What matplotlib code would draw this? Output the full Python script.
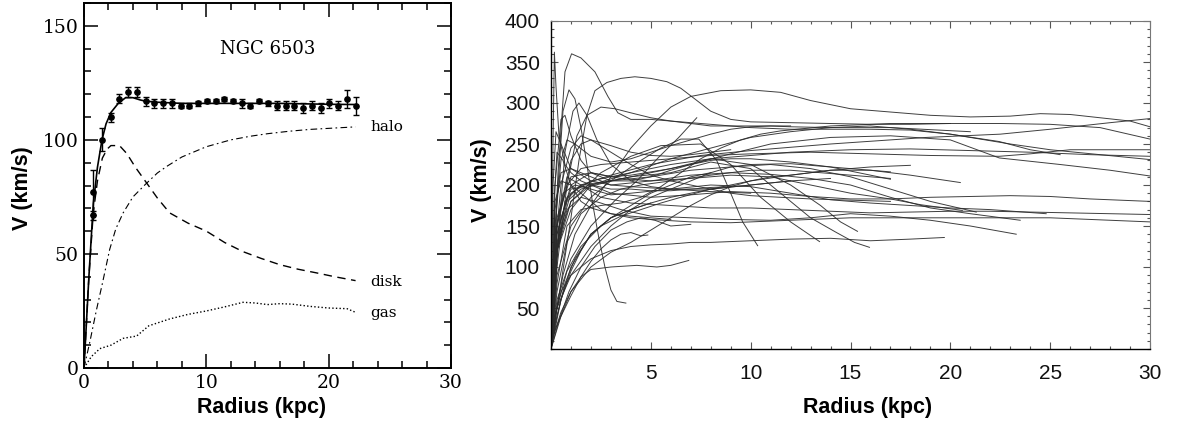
import matplotlib
matplotlib.use("Agg")
import matplotlib.pyplot as plt
from matplotlib.ticker import MultipleLocator

# ---------------- Left panel data: NGC 6503 ----------------
obs_r = [0.70, 0.76, 1.47, 2.18, 2.86, 3.60, 4.30, 5.04, 5.75, 6.49, 7.19, 7.90, 8.60,
         9.35, 10.05, 10.76, 11.47, 12.20, 12.90, 13.60, 14.30, 15.00, 15.75, 16.50,
         17.20, 17.90, 18.60, 19.35, 20.05, 20.80, 21.50, 22.20]
obs_v = [67, 77, 100, 110, 118, 121, 121, 117, 116, 116, 116, 115, 115,
         116, 117, 117, 118, 117, 116, 115, 117, 116, 115, 115,
         115, 114, 115, 114, 116, 115, 118, 115]
obs_err = [2, 10, 5, 2, 2, 2, 2, 2, 2, 2, 2, 1, 1,
           1, 1, 1, 1, 1, 2, 1, 1, 1, 2, 2,
           2, 2, 2, 2, 2, 2, 4, 4]

fit_r = [0, 0.4, 0.76, 1.1, 1.47, 1.8, 2.2, 2.8, 3.4, 4.0, 4.6, 5.0, 6, 8, 10, 12, 14, 16, 18, 20, 22.2]
fit_v = [0, 40, 72, 88, 100, 107, 112, 116, 118.5, 118.5, 117.5, 117, 116.5, 116, 116, 116, 116, 116, 115.8, 115.6, 115.5]

disk_r = [0, 0.4, 0.76, 1.1, 1.5, 1.9, 2.2, 2.9, 3.5, 4.2, 5.0, 6.0, 7.0, 8.5, 10, 11.5, 13, 14.5, 16, 17.5, 19, 20.5, 22.2]
disk_v = [0, 40, 68, 82, 92, 96, 97.5, 97.5, 94, 88, 82, 74.5, 68, 63.5, 60, 55, 51, 48, 45.3, 43.3, 41.7, 40, 38.3]

halo_r = [0, 0.5, 1.0, 1.5, 2.1, 2.6, 3.2, 4.0, 5.0, 6.0, 6.8, 8.0, 10, 12, 13.6, 15, 16.8, 18.5, 20.5, 22.2]
halo_v = [0, 12, 25, 37, 52, 61, 68, 75, 80.4, 85.5, 88.5, 92.5, 97, 100, 101.6, 102.7, 103.8, 104.6, 105.2, 105.7]

gas_r = [0, 0.6, 1.3, 2.2, 3.2, 4.3, 5.3, 7.0, 8.5, 10, 11.5, 13, 14, 15, 16, 17, 18.5, 20, 21.5, 22.2]
gas_v = [0, 5, 8.5, 10, 13, 14, 18.5, 21.5, 23.5, 25, 26.8, 28.8, 28.5, 27.8, 28.2, 28, 27, 26.3, 26, 24.4]

# ---------------- Right panel data: rotation curves ----------------
curve_01 = ([0.2, 0.6, 1.2, 2, 3, 4, 5, 6, 7, 8.5, 10, 11.5, 13, 15, 17, 19, 21, 23, 24.5, 26, 27.5, 29, 30],
            [40, 90, 140, 175, 210, 245, 272, 295, 308, 315, 316, 313, 303, 293, 289, 285, 283, 284, 287, 286, 282, 278, 271])
curve_02 = ([0.1, 0.5, 1, 1.4, 1.8, 2.2, 2.8, 3.5, 4.2, 5, 5.8, 6.5, 7.2, 8, 9, 10, 12, 14, 16, 18, 20, 22.5, 25, 27.5, 30],
            [20, 80, 160, 230, 285, 315, 325, 330, 332, 330, 326, 318, 305, 290, 280, 277, 276, 275, 274, 274, 275, 275, 274, 270, 256])
curve_03 = ([0.05, 0.35, 0.7, 1.03, 1.5, 2.2, 2.85, 3.35, 4, 5, 6.5, 8, 10, 12, 14, 16, 18, 20, 21.5, 23, 25, 27.5, 30],
            [50, 215, 338, 360, 355, 338, 308, 288, 280, 280, 277, 274, 270, 268, 268, 268, 267, 262, 256, 250, 243, 237, 231])
curve_04 = ([0, 0.1, 0.17, 0.25, 0.4, 0.7, 1, 1.5, 2, 3, 4, 5, 6, 7, 8, 9],
            [0, 250, 362, 320, 260, 225, 215, 205, 200, 195, 195, 193, 193, 195, 197, 198])
curve_05 = ([0.05, 0.3, 0.6, 0.9, 1.2, 1.5, 1.8, 2.1, 2.4, 2.7, 3.0, 3.3, 3.75],
            [40, 180, 290, 316, 305, 270, 225, 175, 135, 100, 72, 58, 56])
curve_06 = ([0, 0.3, 0.7, 1.5, 3, 5, 7.5, 10, 14, 18.8, 22.5, 25, 28, 30],
            [0, 120, 180, 200, 212, 225, 236, 242, 250, 258, 262, 268, 276, 281])
curve_07 = ([0, 0.3, 0.8, 1.5, 2.5, 4, 6, 8, 10, 13, 16, 19, 22.45, 24, 26, 28, 30],
            [0, 150, 200, 220, 225, 228, 232, 236, 238, 240, 238, 236, 235, 238, 243, 243, 243])
curve_08 = ([0, 0.3, 0.8, 1.5, 3, 5, 7, 9, 11, 14, 17, 20, 22.45, 25.5, 28, 30],
            [0, 120, 180, 195, 205, 215, 225, 238, 250, 258, 260, 255, 233, 225, 218, 211])
curve_09 = ([0, 0.4, 1, 2, 4, 6, 8, 10, 12, 15, 18, 21, 24, 27, 30],
            [0, 140, 190, 205, 215, 225, 232, 236, 240, 243, 244, 242, 240, 237, 235])
curve_10 = ([0, 0.2, 0.5, 1, 2, 3, 5, 7, 9, 11, 13, 15, 17, 19, 21, 23, 25, 27, 30],
            [0, 100, 160, 195, 200, 190, 185, 188, 192, 190, 186, 183, 183, 185, 186, 187, 186, 183, 180])
curve_11 = ([0, 0.3, 0.8, 1.5, 2.5, 4, 6, 8, 10, 12, 14, 16, 18, 20, 22, 24, 26, 28, 30],
            [0, 150, 210, 200, 185, 178, 175, 172, 172, 170, 168, 166, 167, 168, 168, 167, 166, 165, 164])
curve_12 = ([0, 0.2, 0.5, 1, 1.5, 2, 2.5, 3, 4, 5, 7, 9, 11, 13, 15, 17, 19, 21, 23, 25, 27, 30],
            [0, 180, 205, 200, 190, 180, 170, 165, 160, 158, 155, 154, 156, 158, 160, 160, 160, 160, 160, 160, 158, 155])
curve_13 = ([0, 0.3, 1, 2, 4, 6, 8, 10, 12, 14, 16, 18, 20, 22.45, 24, 25.5],
            [0, 130, 180, 200, 215, 232, 245, 258, 265, 270, 272, 268, 262, 253, 243, 237])
curve_14 = ([0, 0.2, 0.6, 1.2, 2, 3, 4, 6, 8, 10, 12, 14, 16, 18, 20, 22, 24.8],
            [0, 140, 190, 200, 195, 188, 190, 195, 200, 198, 190, 182, 178, 175, 172, 170, 165])
curve_15 = ([0, 0.2, 0.5, 1, 2, 3, 5, 7, 9, 11, 13, 15, 17, 19, 21, 23.5],
            [0, 170, 215, 220, 210, 200, 205, 212, 215, 213, 208, 200, 185, 172, 165, 157])
curve_16 = ([0, 0.3, 0.8, 1.5, 2.5, 3.5, 5, 7, 9, 11, 13, 15, 17, 19, 21, 23.3],
            [0, 120, 170, 185, 178, 170, 162, 160, 158, 157, 160, 165, 162, 157, 150, 140])
curve_17 = ([0, 0.3, 0.8, 1.5, 3, 5, 7, 9, 11, 13, 15, 17, 19, 21.3],
            [0, 140, 185, 200, 205, 210, 218, 222, 225, 220, 210, 195, 180, 167])
curve_18 = ([0, 0.3, 1, 2, 3.5, 5, 7, 9, 11, 13, 15, 17, 18.5, 20.6],
            [0, 160, 210, 215, 208, 205, 208, 212, 210, 200, 190, 183, 176, 169])
curve_19 = ([0, 0.5, 1, 2, 3, 4, 5, 6, 7, 8, 9, 10, 11, 12, 14, 16, 18, 20.5],
            [0, 40, 70, 100, 118, 130, 145, 160, 175, 188, 198, 205, 210, 212, 218, 218, 212, 203])
curve_20 = ([0, 0.2, 0.5, 1, 1.5, 2, 3, 4, 5, 6, 7, 8, 10, 12, 14, 16, 18, 19.7],
            [0, 40, 70, 90, 100, 110, 120, 125, 127, 128, 130, 130, 132, 134, 135, 132, 134, 136])
curve_21 = ([0, 0.3, 1, 2, 3, 4, 5, 6, 7, 8, 9, 10, 12, 14, 17],
            [0, 50, 90, 125, 150, 170, 185, 195, 205, 215, 222, 225, 226, 222, 207])
curve_22 = ([0, 0.3, 1, 2, 3, 4, 6, 8, 10, 11, 12, 13, 14.3, 15.2, 15.95],
            [0, 120, 170, 200, 205, 210, 215, 228, 220, 200, 180, 160, 142, 130, 124])
curve_23 = ([0, 0.3, 1, 2, 3, 4, 6, 8, 10, 12, 13.5, 14.5, 15.35],
            [0, 140, 200, 215, 210, 212, 220, 232, 225, 200, 175, 155, 143.5])
curve_24 = ([0, 0.3, 1, 2.5, 4, 5.5, 7.5, 9, 10.45, 12, 13.45],
            [0, 120, 180, 215, 235, 248, 250, 225, 186, 155, 131])
curve_25 = ([0, 0.3, 1, 2, 3, 4.5, 5.5, 6.5, 7.4, 8.3, 9, 9.6, 10.35],
            [0, 90, 150, 185, 205, 230, 245, 256, 256, 230, 190, 155, 126])
curve_26 = ([0, 0.3, 1, 2, 3.2, 4.3, 5.4, 6.4, 7.3],
            [0, 60, 110, 150, 181, 205, 234, 258, 282])
curve_27 = ([0.05, 0.5, 1, 1.5, 2, 3, 4.3, 5.3, 6, 6.9],
            [10, 45, 70, 88, 97, 100, 102, 100, 102, 108])
curve_28 = ([0.05, 0.5, 1, 1.5, 2, 2.5, 3, 3.5, 4, 4.5, 4.85],
            [15, 40, 65, 88, 107, 122, 133, 140, 142, 138, 139])
curve_29 = ([0, 0.2, 0.5, 0.8, 1.2, 2, 3, 4, 5, 6, 7, 8, 9, 10, 11, 12, 14, 17, 21],
            [0, 150, 230, 255, 250, 235, 228, 232, 240, 248, 255, 262, 268, 271, 272, 271, 270, 270, 265])
curve_30 = ([0, 0.2, 0.5, 1, 1.5, 2, 3, 4, 5, 6, 7, 8, 9, 10, 13, 17],
            [0, 120, 200, 245, 260, 255, 240, 225, 212, 205, 200, 195, 190, 187, 183, 180])
curve_31 = ([0, 0.3, 0.7, 1.1, 1.4, 1.8, 2.3, 3, 4, 5, 6, 8, 10, 12, 14],
            [0, 120, 240, 290, 300, 285, 255, 225, 205, 198, 195, 195, 200, 205, 208])
curve_32 = ([0, 0.3, 0.8, 1.3, 1.8, 2.5, 3.2, 4, 5, 6, 7, 8, 10, 12],
            [0, 100, 200, 260, 285, 295, 293, 288, 282, 278, 275, 272, 272, 272])
curve_33 = ([0, 0.2, 0.5, 0.7, 1, 1.5, 2, 3, 4, 5, 6, 7, 8, 9, 10, 12, 14, 17],
            [0, 200, 280, 285, 260, 230, 215, 205, 205, 210, 218, 225, 230, 232, 232, 228, 222, 216])
curve_34 = ([0, 0.5, 1, 2, 3, 4, 5, 6, 7, 8, 10, 12],
            [0, 60, 100, 140, 160, 170, 178, 185, 190, 195, 200, 205])
curve_35 = ([0, 0.3, 0.8, 1.5, 2.5, 3.5, 4.5, 5.5, 6.5, 7.5, 8.5, 9.5, 10.5, 11.5, 14, 17, 20],
            [0, 80, 150, 170, 175, 178, 185, 198, 215, 232, 245, 255, 262, 266, 272, 275, 275])
curve_36 = ([0, 0.1, 0.25, 0.5, 1, 2, 3, 4, 6, 8, 10],
            [0, 200, 265, 250, 220, 205, 200, 198, 195, 192, 190])
curve_37 = ([0, 0.15, 0.3, 0.6, 1, 1.5, 2, 3, 4, 5, 6],
            [0, 180, 240, 230, 200, 180, 172, 165, 162, 160, 158])
curve_38 = ([0, 0.3, 0.8, 1.5, 2.5, 3.5, 4.5, 6, 8, 10, 12, 14, 16, 17],
            [0, 70, 130, 165, 185, 195, 200, 205, 212, 218, 218, 214, 210, 208])
curve_39 = ([0, 0.2, 0.5, 1, 1.5, 2, 3, 4, 5, 6, 7, 8, 9],
            [0, 90, 170, 230, 250, 255, 248, 240, 236, 235, 237, 240, 243])
curve_40 = ([0, 0.3, 0.8, 1.5, 2.5, 3.5, 4.5, 5.5, 6.5, 8, 10, 12, 14, 16, 18],
            [0, 50, 95, 125, 150, 162, 170, 178, 185, 195, 205, 212, 218, 222, 224])
curve_41 = ([0, 0.3, 0.7, 1.2, 2, 3, 4, 5, 6, 7, 8],
            [0, 40, 80, 110, 140, 160, 175, 190, 200, 210, 215])
curve_42 = ([0, 0.2, 0.5, 1, 1.5, 2, 3, 4, 5],
            [0, 30, 60, 95, 120, 140, 160, 170, 178])
curve_43 = ([0, 0.4, 0.9, 1.5, 2.2, 3, 3.8, 4.5, 5.2, 6, 7],
            [0, 35, 70, 100, 125, 145, 155, 160, 157, 150, 152])

rotation_curves = [curve_01, curve_02, curve_03, curve_04, curve_05, curve_06, curve_07, curve_08,
                   curve_09, curve_10, curve_11, curve_12, curve_13, curve_14, curve_15, curve_16,
                   curve_17, curve_18, curve_19, curve_20, curve_21, curve_22, curve_23, curve_24,
                   curve_25, curve_26, curve_27, curve_28, curve_29, curve_30, curve_31, curve_32,
                   curve_33, curve_34, curve_35, curve_36, curve_37, curve_38, curve_39, curve_40,
                   curve_41, curve_42, curve_43]

# ---------------- Figure ----------------
W, H = 1181, 425
fig = plt.figure(figsize=(W / 100, H / 100), dpi=100)

label_font = dict(family=["Liberation Sans", "DejaVu Sans"], fontweight="bold", fontsize=15.5)
serif = ["DejaVu Serif"]

# Left panel
L0, L1, T0, B0 = 84, 451, 3, 368
axL = fig.add_axes([L0 / W, 1 - B0 / H, (L1 - L0) / W, (B0 - T0) / H])
axL.errorbar(obs_r, obs_v, yerr=obs_err, fmt="o", ms=3.8, color="black",
             ecolor="black", elinewidth=1.0, capsize=2.5, capthick=1.0, zorder=5)
axL.plot(fit_r, fit_v, "-", color="black", lw=1.2)
axL.plot(disk_r, disk_v, color="black", lw=1.0, dashes=(6, 4))
axL.plot(halo_r, halo_v, color="black", lw=0.8, dashes=(6, 3, 1.5, 3))
axL.plot(gas_r, gas_v, color="black", lw=1.0, dashes=(1, 1.6))
axL.set_xlim(0, 30)
axL.set_ylim(0, 160)
axL.xaxis.set_major_locator(MultipleLocator(10))
axL.xaxis.set_minor_locator(MultipleLocator(2))
axL.yaxis.set_major_locator(MultipleLocator(50))
axL.yaxis.set_minor_locator(MultipleLocator(10))
axL.tick_params(which="both", direction="in", top=True, right=True, width=1.1, color="black")
axL.tick_params(which="major", length=10, labelsize=13.5, pad=4)
axL.tick_params(which="minor", length=5)
for lab in axL.get_xticklabels() + axL.get_yticklabels():
    lab.set_family(serif)
for s in axL.spines.values():
    s.set_linewidth(1.4)
axL.text(15, 140, "NGC 6503", family=serif, fontsize=13, ha="center", va="center")
axL.text(23.4, 105.5, "halo", family=serif, fontsize=11, ha="left", va="center")
axL.text(23.4, 37.6, "disk", family=serif, fontsize=11, ha="left", va="center")
axL.text(23.4, 24, "gas", family=serif, fontsize=11, ha="left", va="center")
axL.set_xlabel("Radius (kpc)", **label_font)
axL.xaxis.set_label_coords((262 - L0) / (L1 - L0), -(407 - B0) / (B0 - T0))
axL.xaxis.label.set_va("center")
axL.set_ylabel("V (km/s)", **label_font)
axL.yaxis.set_label_coords((22 - L0) / (L1 - L0), 1 - (188 - T0) / (B0 - T0))
axL.yaxis.label.set_va("center")

# Right panel
R0, R1, RT, RB = 551, 1150, 21, 349
axR = fig.add_axes([R0 / W, 1 - RB / H, (R1 - R0) / W, (RB - RT) / H])
for r, v in rotation_curves:
    axR.plot(r, v, color="#2a2a2a", lw=0.7, alpha=0.9)
axR.set_xlim(0, 30)
axR.set_ylim(0, 400)
axR.set_xticks([5, 10, 15, 20, 25, 30])
axR.set_yticks([50, 100, 150, 200, 250, 300, 350, 400])
axR.xaxis.set_minor_locator(MultipleLocator(1))
axR.yaxis.set_minor_locator(MultipleLocator(10))
axR.tick_params(which="both", direction="in", top=True, right=True, color="#555555", width=0.8)
axR.tick_params(which="major", length=5, labelsize=15)
axR.tick_params(which="minor", length=2.5)
axR.tick_params(axis="x", which="major", pad=10.5)
axR.tick_params(axis="y", which="major", pad=8)
for lab in axR.get_xticklabels() + axR.get_yticklabels():
    lab.set_family(["Liberation Sans", "DejaVu Sans"])
    lab.set_color("#111111")
axR.spines["left"].set_linewidth(1.0)
axR.spines["bottom"].set_linewidth(1.0)
axR.spines["top"].set_linewidth(0.8)
axR.spines["right"].set_linewidth(0.8)
axR.spines["top"].set_color("#777777")
axR.spines["right"].set_color("#777777")
axR.set_xlabel("Radius (kpc)", **label_font)
axR.xaxis.set_label_coords((868 - R0) / (R1 - R0), -(407 - RB) / (RB - RT))
axR.xaxis.label.set_va("center")
axR.set_ylabel("V (km/s)", **label_font)
axR.yaxis.set_label_coords((482 - R0) / (R1 - R0), 1 - (180 - RT) / (RB - RT))
axR.yaxis.label.set_va("center")

fig.savefig("out.png", dpi=100)
